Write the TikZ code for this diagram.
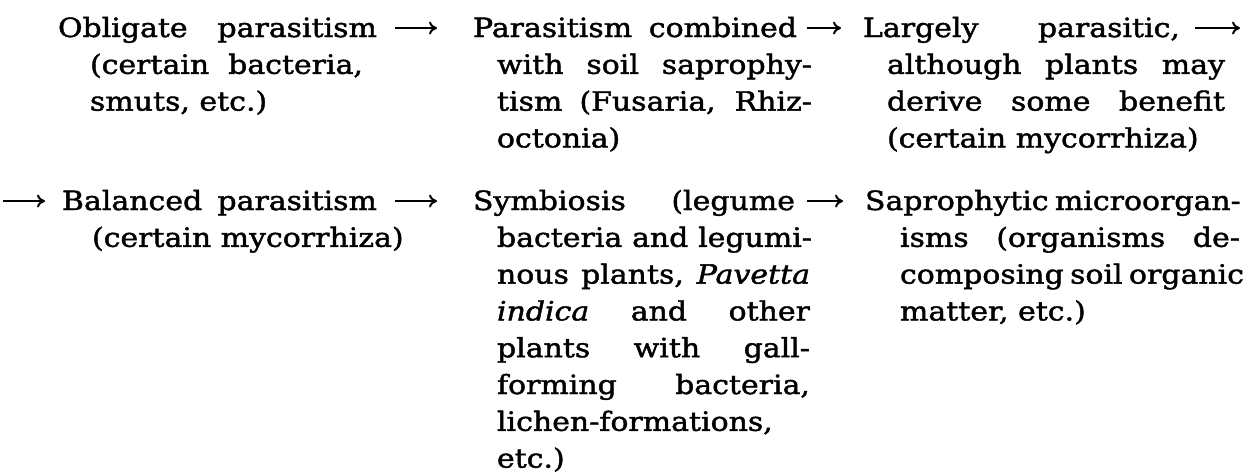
\documentclass[tikz,border=0pt]{standalone}
\usepackage{fontspec}
\setmainfont{DejaVu Serif}[FakeStretch=1.13,FakeBold=1.6]
\usetikzlibrary{arrows.meta}
\newcommand{\jl}[2]{\makebox[\dimexpr #1pt*1/2\relax][s]{#2}}
\tikzset{
  ln/.style={anchor=base west, inner sep=0pt, outer sep=0pt,
    font=\fontsize{13.25pt}{16pt}\selectfont},
  flow/.style={-{To[length=4pt,width=6.5pt]}, line width=1pt},
}
\begin{document}
\begin{tikzpicture}[x=0.5pt,y=-0.5pt]
\useasboundingbox (0,0) rectangle (1252,473);
% ---------- row 1 ----------
\node[ln] (a1) at (58,37)     {\jl{319}{Obligate parasitism}};
\node[ln] (a2) at (90,73.8)   {\jl{273}{(certain bacteria,}};
\node[ln] (a3) at (90,110.6)  {smuts, etc.)};
\node[ln] (b1) at (473,37)    {\jl{324}{Parasitism combined}};
\node[ln] (b2) at (497,73.8)  {\jl{315}{with soil saprophy-}};
\node[ln] (b3) at (497,110.6) {\jl{315}{tism (Fusaria, Rhiz-}};
\node[ln] (b4) at (497,147.4) {octonia)};
\node[ln] (c1) at (863,37)    {\jl{317}{Largely parasitic,}};
\node[ln] (c2) at (887,73.8)  {\jl{338}{although plants may}};
\node[ln] (c3) at (887,110.6) {\jl{338}{derive some benefit}};
\node[ln] (c4) at (887,147.4) {(certain mycorrhiza)};
\coordinate (cend) at (1240,28);
% ---------- row 2 ----------
\coordinate (dstart) at (3,201);
\node[ln] (d1) at (62,210)    {\jl{315}{Balanced parasitism}};
\node[ln] (d2) at (92,246.8)  {(certain mycorrhiza)};
\node[ln] (e1) at (473,210)   {\jl{322}{Symbiosis (legume}};
\node[ln] (e2) at (497,246.8) {\jl{315}{bacteria and legumi-}};
\node[ln] (e3) at (497,283.6) {\jl{313}{nous plants, \textit{Pavetta}}};
\node[ln] (e4) at (497,320.4) {\jl{313}{\textit{indica} and other}};
\node[ln] (e5) at (497,357.2) {\jl{313}{plants with gall-}};
\node[ln] (e6) at (497,394)   {\jl{313}{forming bacteria,}};
\node[ln] (e7) at (497,430.8) {lichen-formations,};
\node[ln] (e8) at (497,467.6) {etc.)};
\node[ln] (f1) at (865,210)   {\jl{373}{Saprophytic microorgan-}};
\node[ln] (f2) at (900,246.8) {\jl{340}{isms (organisms de-}};
\node[ln] (f3) at (900,283.6) {\jl{338}{composing soil organic}};
\node[ln] (f4) at (900,320.4) {matter, etc.)};
% ---------- arrows ----------
\draw[flow] ([shift={(18,-9)}]a1.base east) -- ([shift={(-36,-9)}]b1.base west);
\draw[flow] ([shift={(10,-9)}]b1.base east) -- ([shift={(-22,-9)}]c1.base west);
\draw[flow] ([shift={(15,-9)}]c1.base east) -- (cend);
\draw[flow] (dstart) -- ([shift={(-17,-9)}]d1.base west);
\draw[flow] ([shift={(18,-9)}]d1.base east) -- ([shift={(-36,-9)}]e1.base west);
\draw[flow] ([shift={(12,-9)}]e1.base east) -- ([shift={(-22,-9)}]f1.base west);
\end{tikzpicture}
\end{document}
